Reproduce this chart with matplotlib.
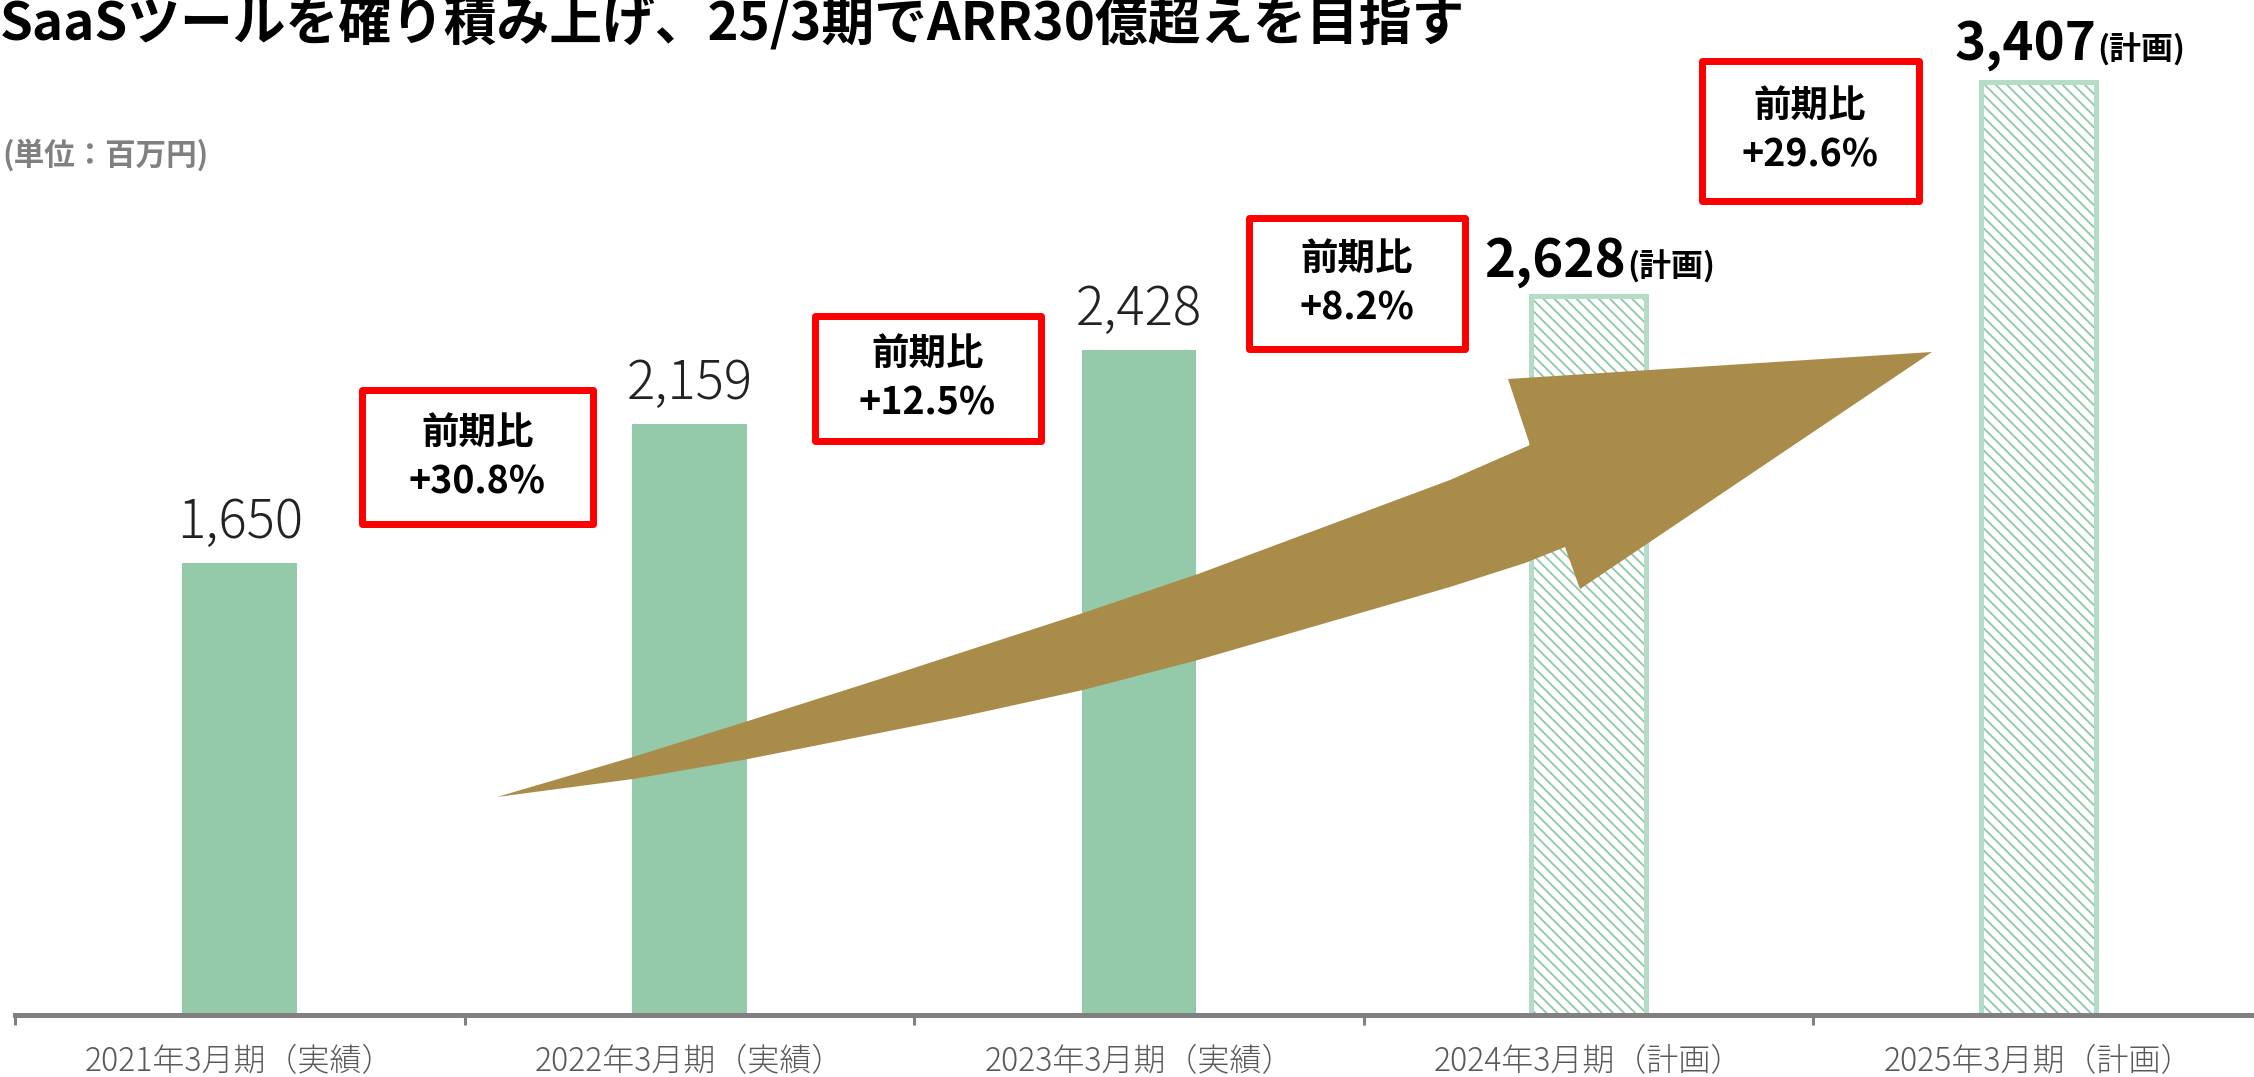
import matplotlib
matplotlib.use('Agg')
import matplotlib.pyplot as plt
from matplotlib.patches import Rectangle, Polygon

plt.rcParams['font.family'] = ['Noto Sans CJK JP', 'DejaVu Sans']
plt.rcParams['hatch.linewidth'] = 1.3

# --- data ---
periods = ['2021年3月期（実績）', '2022年3月期（実績）', '2023年3月期（実績）',
           '2024年3月期（計画）', '2025年3月期（計画）']
arr = [1650, 2159, 2428, 2628, 3407]
is_plan = [False, False, False, True, True]
growth = ['+30.8%', '+12.5%', '+8.2%', '+29.6%']

title = 'SaaSツールを確り積み上げ、25/3期でARR30億超えを目指す'
unit = '(単位：百万円)'

# --- layout (pixels, top-left origin) ---
W, H = 2254, 1077
BASE_Y = 1015
box_px = [(358, 387, 239, 140), (811, 312, 233, 132),
          (1245, 214, 223, 138), (1698, 57, 224, 147)]
arrow_px = [(497, 797), (633, 757), (748, 721), (877, 680), (1083, 613),
            (1198, 574), (1450, 480), (1530, 445), (1508, 379), (1932, 352),
            (1580, 589), (1565, 547), (1525, 563), (1450, 587), (1198, 660),
            (1083, 690), (960, 717), (748, 759), (633, 779)]
# label offsets in px: (dx of number right/center, dy above bar)
label_off = [(0, 25), (0, 25), (0, 25), (37, 19), (58, 23)]

GREEN = '#94c9a9'
HATCH_C = '#8dc9a7'
EDGE_PLAN = '#b5dcc6'
GOLD = '#a98c4a'
RED = '#ff0000'


def fx(x):
    return x / W


def fy(y):
    return 1 - y / H


fig = plt.figure(figsize=(W / 100, H / 100), dpi=100)
ax = fig.add_axes([fx(15), fy(BASE_Y), 2248 / W, BASE_Y / H])
ax.set_xlim(-0.5, 4.5)
ax.set_ylim(0, 3708)

x = list(range(len(arr)))
bw = 0.255
for i, v in enumerate(arr):
    if is_plan[i]:
        ax.bar(i, v, bw, color='white', edgecolor=HATCH_C, hatch='\\\\\\',
               linewidth=0, zorder=2)
        ax.bar(i, v, bw, color='none', edgecolor=EDGE_PLAN, linewidth=3.6,
               zorder=2.1)
    else:
        ax.bar(i, v, bw, color=GREEN, linewidth=0, zorder=2)

# axes styling
for s in ['top', 'right', 'left']:
    ax.spines[s].set_visible(False)
ax.spines['bottom'].set_color('#808080')
ax.spines['bottom'].set_linewidth(3.6)
ax.set_yticks([])
ax.set_xticks([i - 0.5 for i in range(len(arr) + 1)])
ax.set_xticklabels([])
ax.tick_params(axis='x', which='major', length=7, width=2.2, color='#808080')
ax.set_xticks(x, minor=True)
ax.set_xticklabels(periods, minor=True)
ax.tick_params(axis='x', which='minor', length=0, pad=21, labelsize=23,
               labelcolor='#595959')
for t in ax.get_xticklabels(minor=True):
    t.set_fontweight('light')

# value labels
for i, v in enumerate(arr):
    dx, dy = label_off[i]
    if is_plan[i]:
        ax.annotate(f'{v:,}', (i, v), xytext=(dx * 0.72, dy * 0.72),
                    textcoords='offset points', ha='right', va='baseline',
                    fontsize=38, fontweight='bold', color='black', zorder=5)
        ax.annotate('(計画)', (i, v), xytext=(dx * 0.72 + 1, dy * 0.72),
                    textcoords='offset points', ha='left', va='baseline',
                    fontsize=23, fontweight='bold', color='black', zorder=5)
    else:
        ax.annotate(f'{v:,}', (i, v), xytext=(dx * 0.72, dy * 0.72),
                    textcoords='offset points', ha='center', va='baseline',
                    fontsize=38, fontweight='light', color='#222222', zorder=5)

# growth arrow
arrow = Polygon([(fx(a), fy(b)) for a, b in arrow_px], closed=True,
                transform=fig.transFigure, facecolor=GOLD, edgecolor='none',
                zorder=3)
fig.add_artist(arrow)

# growth boxes
for (bx, by, bwid, bh), g in zip(box_px, growth):
    lw = 7
    r = Rectangle((fx(bx + lw / 2), fy(by + bh - lw / 2)),
                  (bwid - lw) / W, (bh - lw) / H, transform=fig.transFigure,
                  facecolor='white', edgecolor=RED, linewidth=lw * 0.72,
                  joinstyle='round', zorder=4)
    fig.add_artist(r)
    fig.text(fx(bx + bwid / 2), fy(by + bh / 2), '前期比\n' + g,
             ha='center', va='center', fontsize=27, fontweight='bold',
             linespacing=1.35, color='black', zorder=5)

# title and unit
fig.text(fx(0), fy(40), title, ha='left', va='baseline', fontsize=38,
         fontweight='bold', color='black')
fig.text(fx(2), fy(155), unit, ha='left', va='center', fontsize=22,
         fontweight='bold', color='#808080')

fig.savefig('out.png', dpi=100)
